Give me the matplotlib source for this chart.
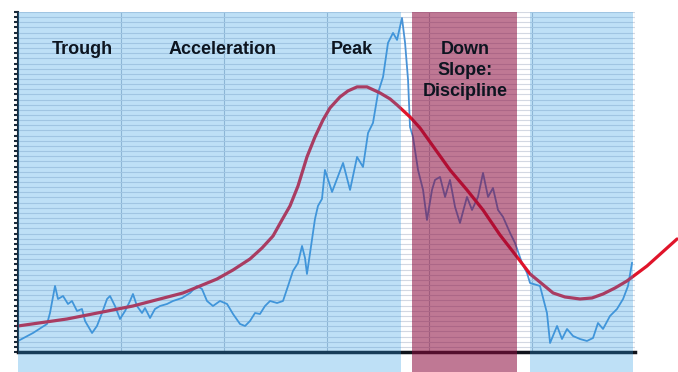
import matplotlib
matplotlib.use("Agg")
import matplotlib.pyplot as plt
from matplotlib.ticker import MultipleLocator

# market price (blue, noisy)
price_x = [0.00, 1.46, 2.82, 3.11, 3.60, 3.89, 4.38, 4.86, 5.25, 5.74, 6.22, 6.52, 7.20, 7.68,
           8.17, 8.66, 8.95, 9.43, 9.92, 10.41, 10.89, 11.18, 11.57, 12.06, 12.35, 12.84, 13.32,
           13.81, 14.49, 15.07, 15.95, 16.73, 17.41, 17.89, 18.38, 18.96, 19.64, 20.33, 20.91,
           21.59, 22.08, 22.56, 23.05, 23.53, 24.02, 24.51, 25.19, 25.77, 26.26, 26.74, 27.23,
           27.62, 27.91, 28.10, 28.40, 28.88, 29.17, 29.56, 29.85, 30.54, 31.61, 32.29, 32.97,
           33.55, 34.04, 34.52, 35.01, 35.50, 35.98, 36.47, 36.86, 37.34, 37.64, 37.93, 38.12,
           38.41, 38.90, 39.39, 39.77, 40.26, 40.55, 41.04, 41.53, 42.01, 42.50, 42.98, 43.66,
           44.15, 44.73, 45.22, 45.71, 46.19, 46.68, 47.17, 47.85, 48.33, 49.01, 49.50, 49.79,
           50.76, 51.44, 51.74, 52.42, 52.90, 53.39, 53.97, 54.65, 55.33, 55.92, 56.40, 56.89,
           57.57, 58.25, 58.84, 59.32, 59.71]
price_y = [2.14, 3.69, 5.44, 7.57, 12.82, 10.29, 10.87, 9.32, 9.90, 7.96, 8.35, 6.02, 3.69, 5.05,
           7.57, 10.29, 10.87, 8.93, 6.41, 7.96, 9.90, 11.26, 8.93, 7.57, 8.54, 6.60, 8.35,
           8.93, 9.32, 9.90, 10.49, 11.46, 12.82, 12.23, 9.90, 8.93, 9.90, 9.32, 7.38,
           5.44, 5.05, 6.02, 7.57, 7.38, 8.93, 9.90, 9.51, 9.90, 12.82, 15.73, 17.28,
           20.58, 18.25, 15.15, 19.22, 25.83, 28.35, 29.71, 35.34, 31.07, 36.70, 31.46, 37.86,
           35.92, 42.52, 44.47, 50.29, 53.40, 60.00, 61.94, 60.58, 64.85, 60.00, 52.82, 43.69,
           41.75, 35.34, 31.46, 25.63, 31.46, 33.40, 33.98, 30.10, 33.40, 28.16, 25.05, 30.10,
           27.57, 30.10, 34.76, 30.10, 31.84, 27.57, 26.21, 23.11, 21.17, 17.28, 15.34, 13.40,
           12.82, 7.57, 1.75, 5.05, 2.52, 4.47, 3.11, 2.52, 2.14, 2.72, 5.63, 4.47,
           6.99, 8.35, 10.29, 12.82, 17.28]

# cycle curve (red)
cycle_x = [0.00, 4.77, 11.18, 16.05, 19.35, 20.91, 22.56, 23.73, 24.80, 25.67, 26.45, 27.23,
           28.10, 28.88, 29.66, 30.34, 31.31, 32.09, 32.97, 33.94, 35.20, 36.18, 36.86, 38.12,
           39.09, 40.55, 42.01, 43.66, 45.22, 46.87, 48.53, 49.79, 50.86, 52.03, 53.19, 54.65,
           55.82, 56.89, 58.06, 59.22, 61.17, 64.09]
cycle_y = [5.05, 6.41, 8.93, 11.46, 14.17, 15.92, 18.06, 20.19, 22.52, 25.63, 28.35, 32.23,
           37.86, 41.75, 45.05, 47.38, 49.51, 50.68, 51.46, 51.46, 50.29, 49.13, 47.96, 45.63,
           43.50, 39.42, 35.34, 31.46, 27.57, 22.72, 18.45, 15.15, 13.40, 11.46, 10.68, 10.29,
           10.49, 11.26, 12.43, 13.79, 16.70, 21.94]

# phases: (start, end, colour, alpha)
phase_start = [0.0, 38.3, 49.8]
phase_end = [37.2, 48.5, 59.8]
phase_color = ["#2a9be4", "#8c0a3c", "#2a9be4"]
phase_alpha = [0.30, 0.55, 0.30]

labels = ["Trough", "Acceleration", "Peak", "Down\nSlope:\nDiscipline"]
label_x = [6.3, 19.9, 32.5, 43.5]
label_y = [58.8, 58.8, 58.8, 54.6]

fig = plt.figure(figsize=(6.78, 3.72), dpi=100)
ax = fig.add_axes([18 / 678, 20 / 372, 617 / 678, 340 / 372])

ax.plot(price_x, price_y, color="#4a93d6", lw=1.3, zorder=2)
ax.plot(cycle_x, cycle_y, color="#e0142a", lw=2.3, zorder=2.2, clip_on=False,
        solid_capstyle="round", solid_joinstyle="round")

for s, e, c, a in zip(phase_start, phase_end, phase_color, phase_alpha):
    ax.axvspan(s, e, ymin=-0.07, ymax=1.0, color=c, alpha=a, lw=0, zorder=3, clip_on=False)

for t, x, y in zip(labels, label_x, label_y):
    ax.text(x, y, t, ha="center", va="center", fontsize=13, fontweight="bold",
            family="Liberation Sans", color="#0d1520", linespacing=1.3, zorder=4)

ax.set_xlim(0, 60)
ax.set_ylim(0, 66)
ax.xaxis.set_major_locator(MultipleLocator(10))
ax.yaxis.set_major_locator(MultipleLocator(1))
ax.grid(axis="y", color="#d3d8e2", lw=0.8)
ax.grid(axis="x", color="#b8c2d0", lw=0.8)
ax.set_axisbelow(True)

for side in ["top", "right"]:
    ax.spines[side].set_visible(False)
ax.spines["left"].set_color("#1a2a3a")
ax.spines["left"].set_linewidth(1.5)
ax.spines["bottom"].set_color("#10141c")
ax.spines["bottom"].set_linewidth(2.5)
ax.tick_params(axis="y", length=3, width=1.5, color="#1a2a3a", labelleft=False)
ax.tick_params(axis="x", length=0, labelbottom=False)

fig.savefig("out.png", dpi=100)
